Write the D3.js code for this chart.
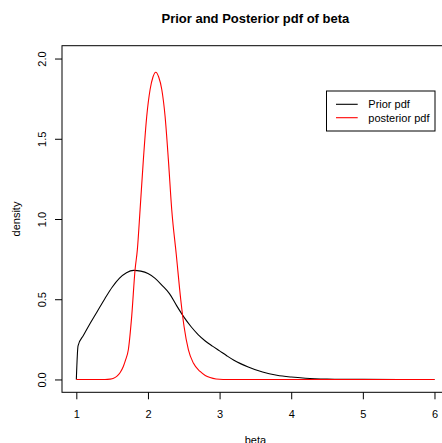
<!DOCTYPE html>
<html>
<head>
<meta charset="utf-8">
<script src="https://cdn.jsdelivr.net/npm/d3@7"></script>
<style>
  html, body { margin: 0; padding: 0; background: #fff; }
  svg { display: block; font-family: "Liberation Sans", Arial, sans-serif; }
</style>
</head>
<body>
<script>
// ---- data ----
const priorX = [1.00, 1.024, 1.10, 1.20, 1.30, 1.40, 1.50, 1.60, 1.70, 1.80, 1.90, 2.00, 2.10, 2.20, 2.30, 2.40, 2.50, 2.60, 2.70, 2.80, 2.90, 3.00, 3.10, 3.20, 3.40, 3.60, 3.80, 4.00, 4.20, 4.50, 5.00, 5.50, 6.00];
const priorY = [0.00, 0.21, 0.275, 0.355, 0.43, 0.505, 0.575, 0.63, 0.665, 0.68, 0.675, 0.66, 0.63, 0.585, 0.535, 0.46, 0.39, 0.33, 0.28, 0.24, 0.208, 0.178, 0.148, 0.12, 0.078, 0.046, 0.026, 0.015, 0.008, 0.003, 0.0005, 0.0001, 0.0];

const postX = [1.00, 1.40, 1.47, 1.52, 1.564, 1.61, 1.656, 1.69, 1.726, 1.773, 1.82, 1.852, 1.89, 1.936, 1.983, 2.03, 2.07, 2.109, 2.15, 2.193, 2.239, 2.285, 2.332, 2.395, 2.458, 2.504, 2.565, 2.634, 2.728, 2.80, 2.867, 2.95, 3.05, 6.00];
const postY = [0.00, 0.00, 0.002, 0.007, 0.019, 0.042, 0.081, 0.125, 0.185, 0.393, 0.684, 0.809, 1.057, 1.37, 1.64, 1.807, 1.885, 1.915, 1.885, 1.807, 1.64, 1.37, 1.058, 0.78, 0.497, 0.33, 0.185, 0.102, 0.05, 0.025, 0.012, 0.003, 0.0, 0.0];

const xTicks = [1, 2, 3, 4, 5, 6];
const yTicks = [0, 0.5, 1.0, 1.5, 2.0];
const seriesNames = ["Prior pdf", "posterior pdf"];
const seriesColors = ["#000000", "#FF0000"];
const titleText = "Prior and Posterior pdf of beta";
const xLabel = "beta";
const yLabel = "density";

// ---- layout ----
const W = 442, H = 443;
const svg = d3.select("body").append("svg").attr("width", W).attr("height", H);

const x = d3.scaleLinear().domain([0.8, 6.2]).range([62, 448.8]);
const y = d3.scaleLinear().domain([-0.08, 2.08]).range([392.3, 45.7]);

// plot box
svg.append("rect")
  .attr("x", x(0.8)).attr("y", y(2.08))
  .attr("width", x(6.2) - x(0.8)).attr("height", y(-0.08) - y(2.08))
  .attr("fill", "none").attr("stroke", "#000").attr("stroke-width", 1);

// x axis
const gx = svg.append("g").attr("transform", `translate(0,${y(-0.08)})`)
  .call(d3.axisBottom(x).tickValues(xTicks).tickSize(7).tickPadding(11).tickFormat(d3.format("d")));
gx.select(".domain").remove();
gx.selectAll("text").attr("font-size", 11).attr("fill", "#000").attr("font-family", "Liberation Sans, Arial, sans-serif");
gx.selectAll("line").attr("stroke", "#000");

// y axis
const gy = svg.append("g").attr("transform", `translate(${x(0.8)},0)`)
  .call(d3.axisLeft(y).tickValues(yTicks).tickSize(7).tickFormat(d3.format(".1f")));
gy.select(".domain").remove();
gy.selectAll("line").attr("stroke", "#000");
gy.selectAll("text")
  .attr("font-size", 11).attr("fill", "#000").attr("font-family", "Liberation Sans, Arial, sans-serif")
  .attr("x", null).attr("dy", null)
  .attr("text-anchor", "middle")
  .attr("transform", "translate(-16,0) rotate(-90)");

// lines
const line = d3.line().x(d => x(d[0])).y(d => y(d[1])).curve(d3.curveMonotoneX);
const priorData = priorX.map((v, i) => [v, priorY[i]]);
const postData = postX.map((v, i) => [v, postY[i]]);
svg.append("path").datum(priorData).attr("d", line)
  .attr("fill", "none").attr("stroke", seriesColors[0]).attr("stroke-width", 1.1);
svg.append("path").datum(postData).attr("d", line)
  .attr("fill", "none").attr("stroke", seriesColors[1]).attr("stroke-width", 1.1);

// title
svg.append("text").attr("x", (x(0.8) + x(6.2)) / 2).attr("y", 23)
  .attr("text-anchor", "middle").attr("font-size", 13).attr("font-weight", "bold")
  .text(titleText);

// axis labels
svg.append("text").attr("x", (x(0.8) + x(6.2)) / 2).attr("y", 444)
  .attr("text-anchor", "middle").attr("font-size", 11).text(xLabel);
svg.append("text")
  .attr("transform", `translate(20,${(y(-0.08) + y(2.08)) / 2}) rotate(-90)`)
  .attr("text-anchor", "middle").attr("font-size", 11).text(yLabel);

// legend
const lg = svg.append("g");
lg.append("rect").attr("x", 326.5).attr("y", 91).attr("width", 108.5).attr("height", 40)
  .attr("fill", "#fff").attr("stroke", "#000").attr("stroke-width", 1);
seriesNames.forEach((name, i) => {
  const yy = 104.3 + i * 13.4;
  lg.append("line").attr("x1", 336).attr("x2", 357.7).attr("y1", yy).attr("y2", yy)
    .attr("stroke", seriesColors[i]).attr("stroke-width", 1.1);
  lg.append("text").attr("x", 368.3).attr("y", yy + 4).attr("font-size", 11).text(name);
});
</script>
</body>
</html>
